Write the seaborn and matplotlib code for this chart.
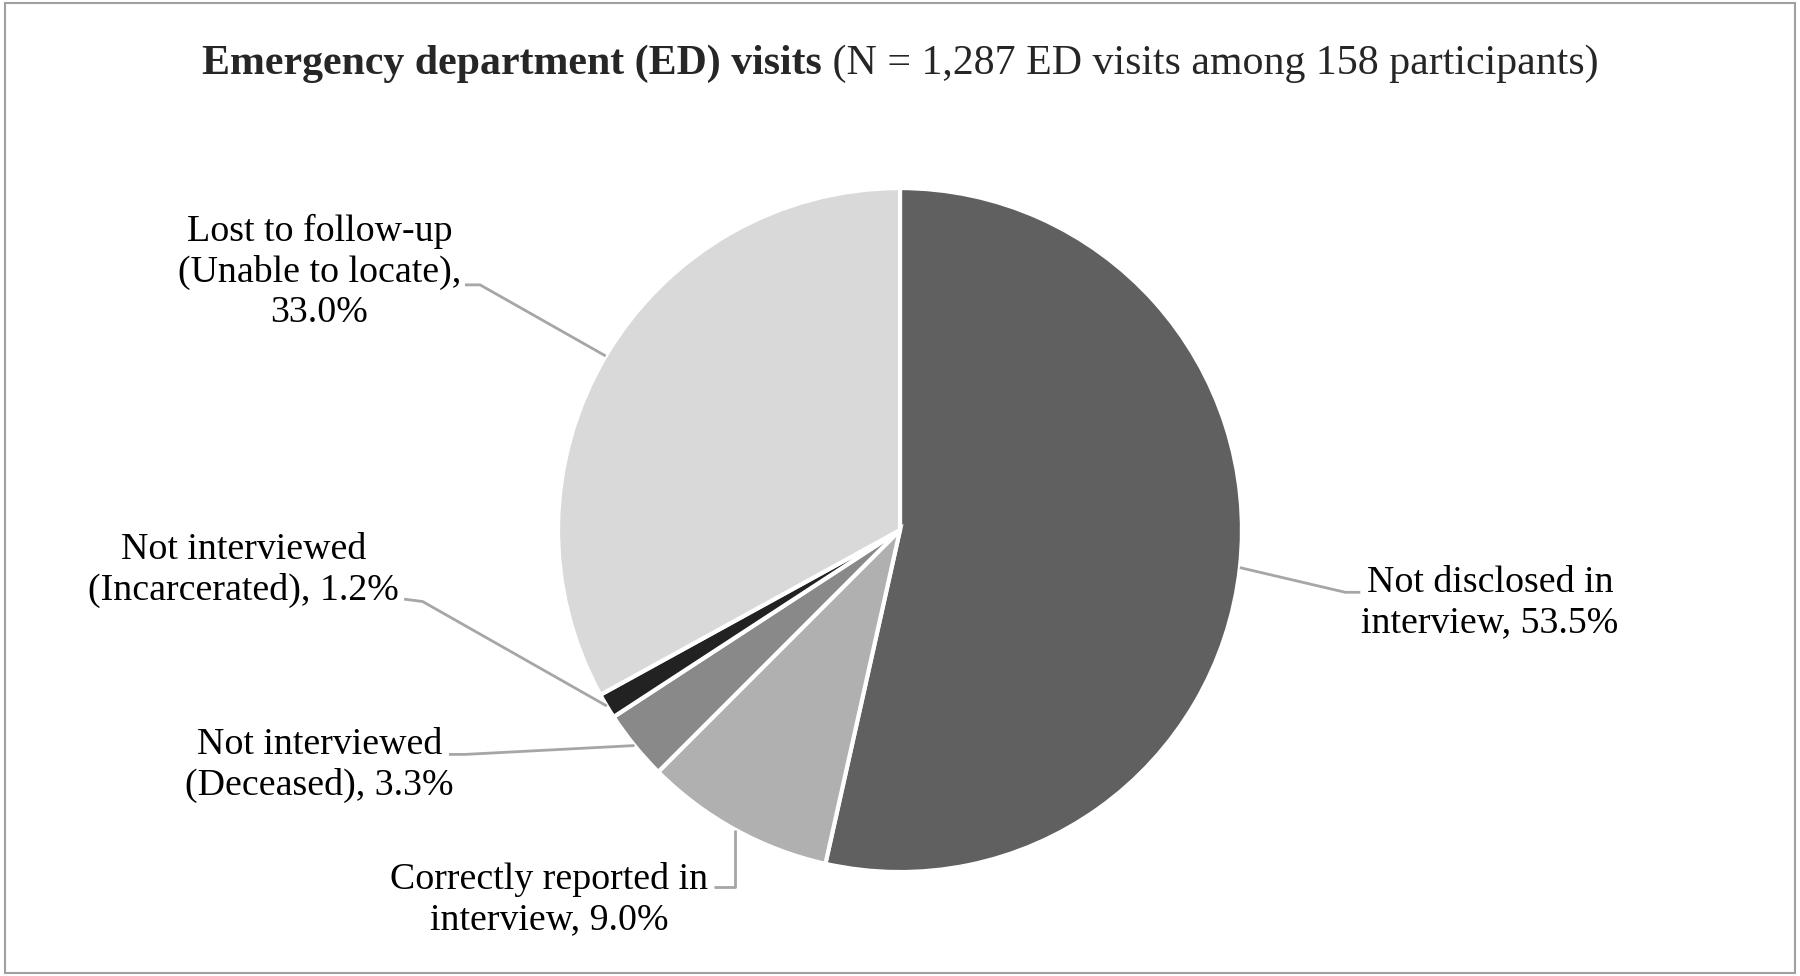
import matplotlib
matplotlib.use("Agg")
import matplotlib.pyplot as plt
import seaborn as sns
import numpy as np
from matplotlib.patches import Rectangle

# data
categories = [
    "Not disclosed in\ninterview",
    "Correctly reported in\ninterview",
    "Not interviewed\n(Deceased)",
    "Not interviewed\n(Incarcerated)",
    "Lost to follow-up\n(Unable to locate)",
]
percents = [53.5, 9.0, 3.3, 1.2, 33.0]
colors = ["#606060", "#b0b0b0", "#898989", "#222222", "#d9d9d9"]

sns.set_theme(style="white")
plt.rcParams["font.family"] = ["Liberation Serif", "DejaVu Serif"]

fig = plt.figure(figsize=(18, 9.76), dpi=100)
ax = fig.add_axes([0, 0, 1, 1])

wedges, _ = ax.pie(percents, colors=colors, startangle=90, counterclock=False,
                   radius=1.0, center=(0, 0),
                   wedgeprops=dict(edgecolor="white", linewidth=3))
ax.set_xlim(-2.632, 2.632)
ax.set_ylim(-1.304, 1.550)
ax.set_aspect("auto")
ax.axis("off")

# label layout: text centre, elbow point, line end (axes data units)
layout = [
    dict(text=(1.725, -0.213), elbow=(1.302, -0.182), end=(1.346, -0.182)),
    dict(text=(-1.027, -1.080), elbow=(-0.483, -1.045), end=(-0.544, -1.045)),
    dict(text=(-1.698, -0.688), elbow=(-1.272, -0.656), end=(-1.319, -0.656)),
    dict(text=(-1.920, -0.118), elbow=(-1.396, -0.209), end=(-1.450, -0.202)),
    dict(text=(-1.698, 0.754), elbow=(-1.228, 0.717), end=(-1.272, 0.717)),
]

label_texts = [
    "Not disclosed in\ninterview, 53.5%",
    "Correctly reported in\ninterview, 9.0%",
    "Not interviewed\n(Deceased), 3.3%",
    "Not interviewed\n(Incarcerated), 1.2%",
    "Lost to follow-up\n(Unable to locate),\n33.0%",
]

for w, lay, txt in zip(wedges, layout, label_texts):
    ang = np.deg2rad((w.theta1 + w.theta2) / 2)
    x0, y0 = np.cos(ang), np.sin(ang)
    if txt.startswith("Correctly"):
        # vertical drop then short horizontal
        xs = [x0, x0, lay["end"][0]]
        ys = [y0, lay["elbow"][1], lay["end"][1]]
    else:
        xs = [x0, lay["elbow"][0], lay["end"][0]]
        ys = [y0, lay["elbow"][1], lay["end"][1]]
    ax.plot(xs, ys, color="#a6a6a6", lw=2, solid_capstyle="butt")
    ax.text(lay["text"][0], lay["text"][1], txt, ha="center", va="center",
            fontsize=27.3, color="black", linespacing=1.22, multialignment="center")

# title: bold part + regular part, centred together
ty = 1 - 64 / 976
t1 = fig.text(0, ty, "Emergency department (ED) visits", fontsize=30.2,
              fontweight="bold", ha="left", va="center")
t2 = fig.text(0, ty, " (N = 1,287 ED visits among 158 participants)", fontsize=30.2,
              ha="left", va="center")
fig.canvas.draw()
r = fig.canvas.get_renderer()
w1 = t1.get_window_extent(r).width / fig.bbox.width
w2 = t2.get_window_extent(r).width / fig.bbox.width
x_start = 0.5 - (w1 + w2) / 2
t1.set_x(x_start)
t2.set_x(x_start + w1)

# outer frame
fig.patches.append(Rectangle((0.003, 0.003), 0.994, 0.994, transform=fig.transFigure,
                             fill=False, edgecolor="#a0a0a0", lw=1.5))

fig.savefig("out.png", dpi=100, facecolor="white")
